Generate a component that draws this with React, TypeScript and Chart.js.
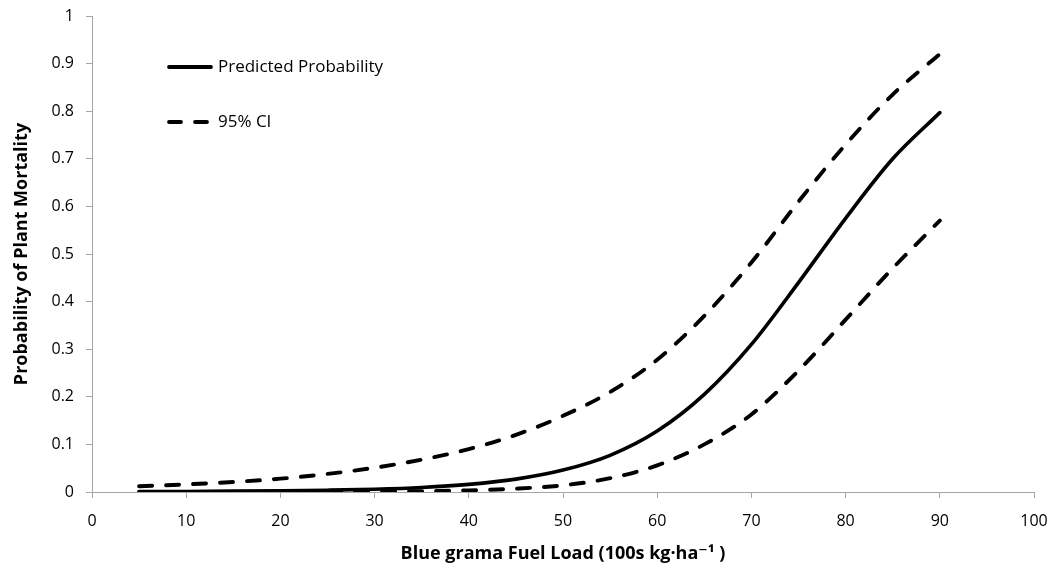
import React, { useEffect, useRef } from "react";
import { Chart, registerables } from "chart.js";

Chart.register(...registerables);

// Fuel load (100s kg·ha⁻¹)
const fuelLoad = [5, 10, 15, 20, 25, 30, 35, 40, 45, 50, 55, 60, 65, 70, 75, 80, 85, 90];
// Predicted probability of plant mortality
const predicted = [0.001, 0.0012, 0.0018, 0.0026, 0.0038, 0.0058, 0.0095, 0.016, 0.027, 0.046, 0.077, 0.128, 0.205, 0.31, 0.44, 0.575, 0.7, 0.797];
// Upper 95% confidence limit
const upperCI = [0.012, 0.016, 0.021, 0.028, 0.038, 0.051, 0.068, 0.09, 0.12, 0.16, 0.21, 0.278, 0.37, 0.482, 0.61, 0.73, 0.835, 0.92];
// Lower 95% confidence limit
const lowerCI = [0.0001, 0.0002, 0.0003, 0.0004, 0.0006, 0.001, 0.0018, 0.0035, 0.007, 0.014, 0.029, 0.056, 0.1, 0.163, 0.255, 0.362, 0.47, 0.57];

const legendLabels = ["Predicted Probability", "95% CI"];
const xTitle = "Blue grama Fuel Load (100s kg·ha⁻¹ )";
const yTitle = "Probability of Plant Mortality";

const FONT = "'Open Sans', 'DejaVu Sans', sans-serif";
const AXIS_GRAY = "#A6A6A6";
const DASH = [13, 14];

const toPoints = (ys: number[]) => fuelLoad.map((x, i) => ({ x, y: ys[i] }));

// Legend drawn inside the plot area, in the upper-left corner
const innerLegend = {
  id: "innerLegend",
  afterDraw(chart: any) {
    const { ctx, chartArea } = chart;
    const x0 = chartArea.left + 75;
    const rows = [
      { y: chartArea.top + 51, dash: [] as number[], label: legendLabels[0] },
      { y: chartArea.top + 106, dash: [12, 14], label: legendLabels[1] },
    ];
    ctx.save();
    ctx.strokeStyle = "#000";
    ctx.lineWidth = 3.8;
    ctx.lineCap = "round";
    ctx.fillStyle = "#000";
    ctx.font = `17px ${FONT}`;
    ctx.textBaseline = "middle";
    rows.forEach((r) => {
      ctx.setLineDash(r.dash);
      ctx.beginPath();
      ctx.moveTo(x0 + 2, r.y);
      ctx.lineTo(x0 + 44, r.y);
      ctx.stroke();
      ctx.setLineDash([]);
      ctx.fillText(r.label, x0 + 51, r.y);
    });
    ctx.restore();
  },
};

// Keep the plot box fixed: no extra room reserved for end tick labels
const noEdgePadding = (scale: any) => {
  scale.paddingLeft = 0;
  scale.paddingRight = 0;
  scale.paddingTop = 0;
  scale.paddingBottom = 0;
};

export default function App() {
  const canvasRef = useRef<HTMLCanvasElement>(null);

  useEffect(() => {
    if (!canvasRef.current) return;
    const common = {
      fill: false,
      pointRadius: 0,
      borderColor: "#000",
      borderWidth: 3.6,
      cubicInterpolationMode: "monotone" as const,
      borderCapStyle: "round" as const,
    };
    const chart = new Chart(canvasRef.current, {
      type: "line",
      data: {
        datasets: [
          { ...common, label: legendLabels[0], data: toPoints(predicted) },
          { ...common, borderWidth: 3.9, label: legendLabels[1], data: toPoints(upperCI), borderDash: DASH },
          { ...common, borderWidth: 3.9, label: "lower", data: toPoints(lowerCI), borderDash: DASH },
        ],
      },
      options: {
        animation: false,
        responsive: false,
        maintainAspectRatio: false,
        layout: { padding: { top: 16, right: 13, left: 0, bottom: 0 } },
        plugins: {
          legend: { display: false },
          tooltip: { enabled: false },
        },
        scales: {
          x: {
            type: "linear",
            min: 0,
            max: 100,
            ticks: { stepSize: 10, color: "#000", font: { family: FONT, size: 16 }, padding: 14, maxRotation: 0 },
            grid: { display: true, drawOnChartArea: false, tickLength: 6, color: AXIS_GRAY, lineWidth: 1 },
            border: { color: AXIS_GRAY, width: 1 },
            title: {
              display: true,
              text: xTitle,
              color: "#000",
              font: { family: FONT, size: 18, weight: "bold" },
              padding: { top: 10, bottom: 18 },
            },
            afterFit(scale: any) {
              scale.height = 91;
              noEdgePadding(scale);
            },
          },
          y: {
            min: 0,
            max: 1,
            ticks: {
              stepSize: 0.1,
              color: "#000",
              font: { family: FONT, size: 16 },
              padding: 12,
              callback: (v: any) => String(Math.round(Number(v) * 10) / 10),
            },
            grid: { display: true, drawOnChartArea: false, tickLength: 6, color: AXIS_GRAY, lineWidth: 1 },
            border: { color: AXIS_GRAY, width: 1 },
            title: {
              display: true,
              text: yTitle,
              color: "#000",
              font: { family: FONT, size: 18, weight: "bold" },
              padding: { top: 11, bottom: 10 },
            },
            afterFit(scale: any) {
              scale.width = 92;
              noEdgePadding(scale);
            },
          },
        },
      },
      plugins: [innerLegend],
    });
    return () => chart.destroy();
  }, []);

  return (
    <div style={{ position: "fixed", left: 0, top: 0, width: 1047, height: 583, background: "#fff" }}>
      <canvas ref={canvasRef} width={1047} height={583} />
    </div>
  );
}
